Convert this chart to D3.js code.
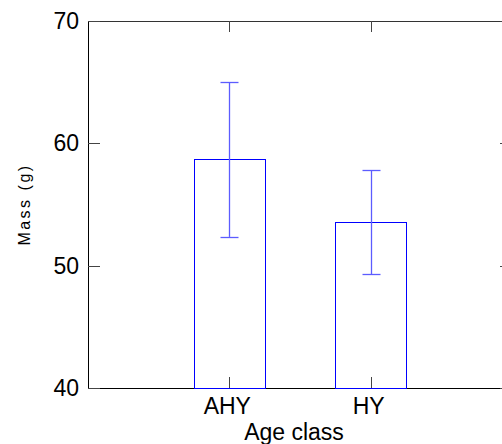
<!DOCTYPE html>
<html><head><meta charset="utf-8">
<script src="https://cdn.jsdelivr.net/npm/d3@7"></script>
<style>body{margin:0;background:#fff}svg{display:block}text{font-family:"Liberation Sans",Arial,sans-serif;fill:#000}</style>
</head><body>
<script>
const categories = ["AHY", "HY"];
const means = [58.7, 53.55];
const errLow = [52.35, 49.3];
const errHigh = [65.0, 57.8];
const yTicks = [40, 50, 60, 70];

const W = 502, H = 444;
const m = {left: 88, right: 512, top: 21, bottom: 388};
const svg = d3.select("body").append("svg").attr("width", W).attr("height", H);

const x = d3.scaleLinear().domain([0, categories.length + 1]).range([m.left, m.right]);
const y = d3.scaleLinear().domain([40, 70]).range([m.bottom, m.top]);
const pos = i => x(i + 1);

// frame
const f = svg.append("g").attr("fill", "none");
f.append("line").attr("x1", m.left + 0.5).attr("x2", m.left + 0.5).attr("y1", m.top).attr("y2", m.bottom + 1).attr("stroke", "#000");
f.append("line").attr("x1", m.left).attr("x2", m.right).attr("y1", m.top + 0.5).attr("y2", m.top + 0.5).attr("stroke", "#333");
f.append("line").attr("x1", m.left).attr("x2", m.right).attr("y1", m.bottom + 0.5).attr("y2", m.bottom + 0.5).attr("stroke", "#000");
f.append("line").attr("x1", m.right + 0.5).attr("x2", m.right + 0.5).attr("y1", m.top).attr("y2", m.bottom + 1).attr("stroke", "#000");

// bars
svg.selectAll("rect.bar").data(means).join("rect")
  .attr("x", (d, i) => Math.round(x(i + 0.75)) + 0.5)
  .attr("width", (d, i) => Math.round(x(i + 1.25)) - Math.round(x(i + 0.75)))
  .attr("y", d => Math.round(y(d)) + 0.5)
  .attr("height", d => Math.round(y(40)) - Math.round(y(d)))
  .attr("fill", "none").attr("stroke", "#0000ff").attr("stroke-width", 1);

// error bars
const eb = svg.append("g").attr("stroke", "#5c5cff").attr("stroke-width", 1.3).attr("fill", "none");
categories.forEach((c, i) => {
  const cx = Math.round(pos(i)) + 0.5;
  eb.append("line").attr("x1", cx).attr("x2", cx).attr("y1", y(errLow[i])).attr("y2", y(errHigh[i]));
  [errLow[i], errHigh[i]].forEach(v => {
    eb.append("line").attr("x1", cx - 9).attr("x2", cx + 9).attr("y1", Math.round(y(v)) + 0.5).attr("y2", Math.round(y(v)) + 0.5);
  });
});

// ticks
const tk = svg.append("g").attr("stroke", "#444").attr("stroke-width", 1);
yTicks.forEach(v => {
  const yy = Math.round(y(v)) + 0.5;
  tk.append("line").attr("x1", m.left).attr("x2", m.left + 12).attr("y1", yy).attr("y2", yy);
  tk.append("line").attr("x1", m.right).attr("x2", m.right - 12).attr("y1", yy).attr("y2", yy);
});
categories.forEach((c, i) => {
  const cx = Math.round(pos(i)) + 0.5;
  tk.append("line").attr("x1", cx).attr("x2", cx).attr("y1", m.top).attr("y2", m.top + 11);
  tk.append("line").attr("x1", cx).attr("x2", cx).attr("y1", m.bottom).attr("y2", m.bottom - 11);
});

// tick labels
svg.append("g").selectAll("text").data(yTicks).join("text")
  .attr("x", 79).attr("y", d => y(d) + 8)
  .attr("text-anchor", "end").attr("font-size", 23)
  .text(d => d);
svg.append("g").selectAll("text").data(categories).join("text")
  .attr("x", (d, i) => pos(i) - 2).attr("y", 414)
  .attr("text-anchor", "middle").attr("font-size", 23)
  .text(d => d);

// axis titles
svg.append("text").attr("x", 294).attr("y", 440).attr("text-anchor", "middle")
  .attr("font-size", 23).text("Age class");
svg.append("text").attr("transform", `translate(30,${(m.top + m.bottom) / 2}) rotate(-90)`)
  .attr("text-anchor", "middle").attr("font-size", 16).attr("letter-spacing", 2.5)
  .text("Mass (g)");
</script>
</body></html>
